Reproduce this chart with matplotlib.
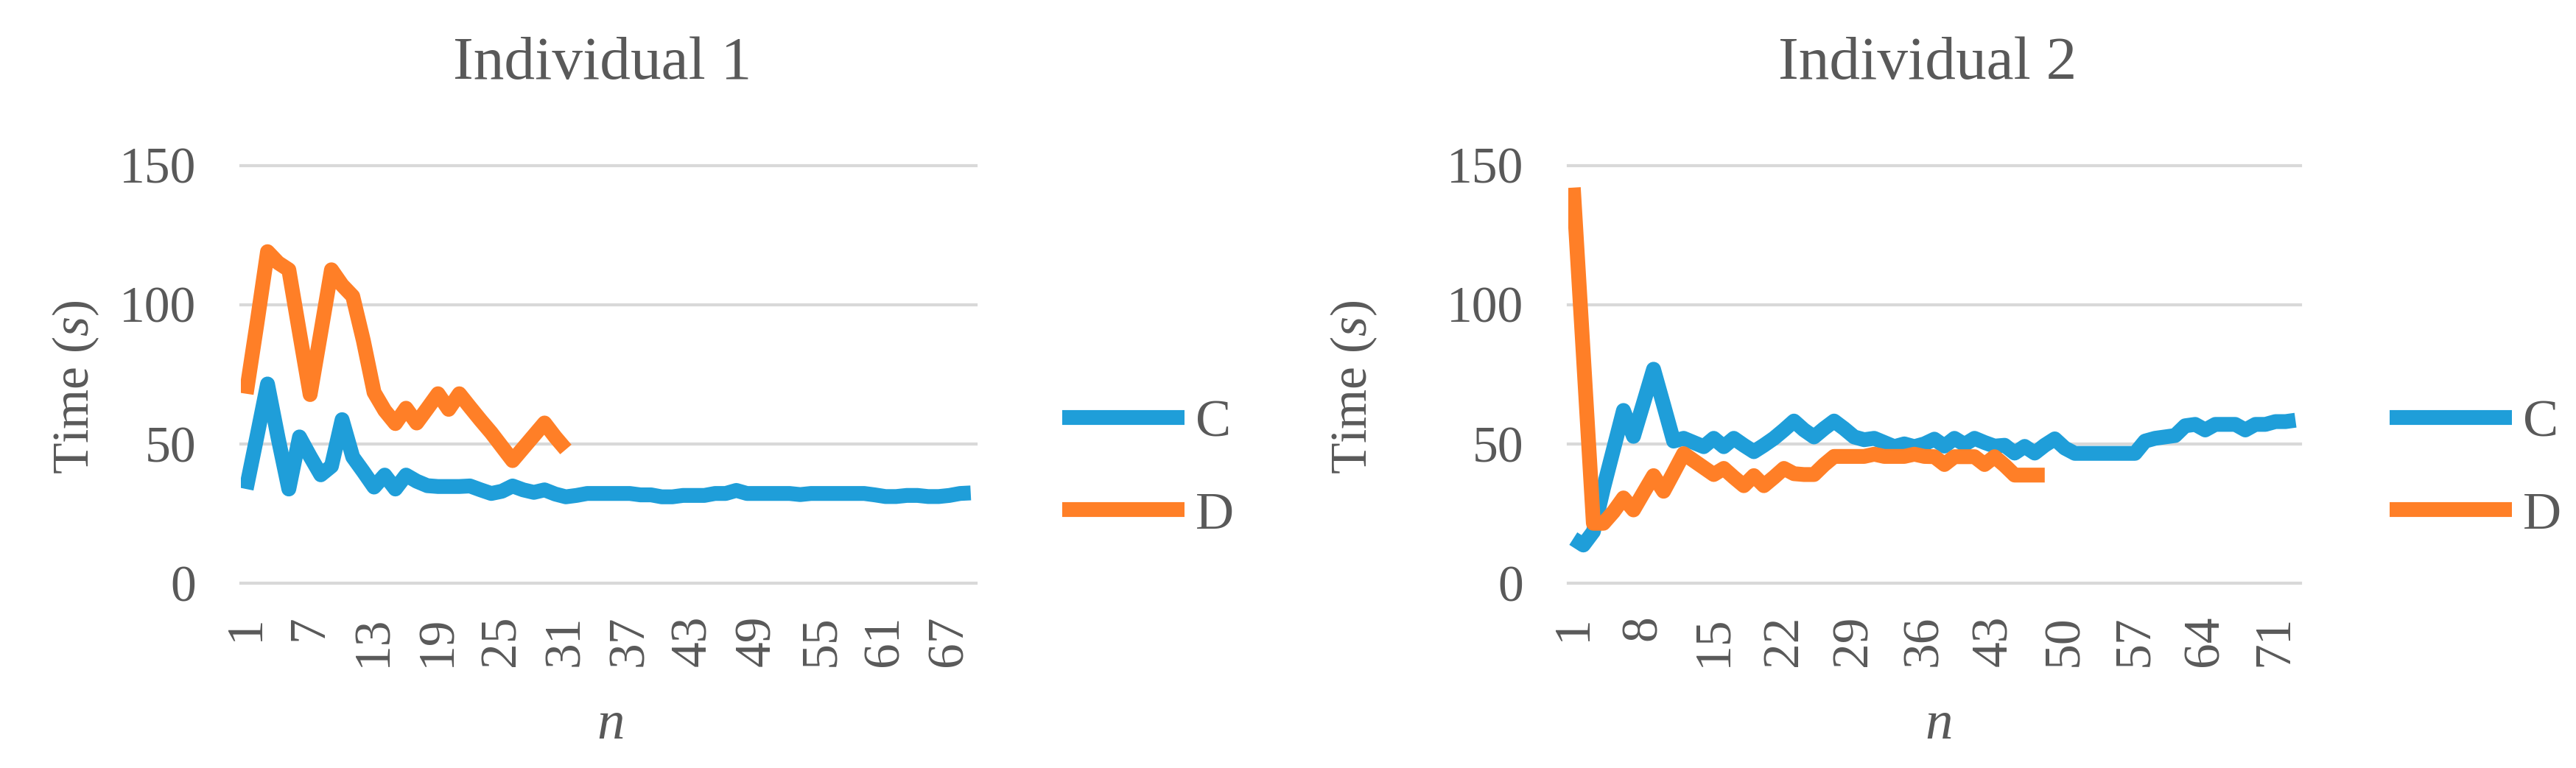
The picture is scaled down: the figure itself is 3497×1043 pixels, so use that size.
import matplotlib
matplotlib.use('Agg')
import numpy as np
import matplotlib.pyplot as plt

plt.rcParams['font.family'] = ['Liberation Serif', 'DejaVu Serif']
plt.rcParams['mathtext.fontset'] = 'custom'
plt.rcParams['mathtext.rm'] = 'Liberation Serif'
plt.rcParams['mathtext.it'] = 'Liberation Serif:italic'

# Individual 1 (times in s, one value per trial n)
ind1_c = [33.8, 52.5, 71.5, 52, 33.8, 52.5, 45.5, 38.9, 42, 58.7,
          45.3, 40, 34.5, 38.8, 33.8, 38.8, 36.6, 35, 34.7, 34.7,
          34.7, 34.9, 33.5, 32.2, 33, 34.9, 33.5, 32.6, 33.5, 32,
          31, 31.5, 32.2, 32.2, 32.2, 32.2, 32.2, 31.7, 31.7, 31,
          31, 31.5, 31.5, 31.5, 32.2, 32.2, 33.3, 32.2, 32.2, 32.2,
          32.2, 32.2, 31.8, 32.2, 32.2, 32.2, 32.2, 32.2, 32.2, 31.7,
          31.1, 31.1, 31.5, 31.5, 31.1, 31.1, 31.5, 32.2, 32.4]
ind1_d = [68, 93, 119, 115, 112.5, 90, 67.7, 90, 112.5, 107,
          103, 87, 68.5, 62, 57.3, 62.8, 57.5, 62.7, 68, 62.4,
          68, 63.2, 58.5, 54, 49, 44, 48.5, 53, 57.5, 52.5, 48]

# Individual 2
ind2_c = [16, 13.7, 18.5, 34, 48, 62, 52.7, 64.7, 76.8, 64,
          51, 52, 50.5, 49, 52, 49, 52, 49.5, 47.2, 49.5,
          52, 55, 58.2, 55, 52.5, 55.5, 58.2, 55.5, 52.5, 51.5,
          52, 50.5, 49, 50, 49, 50, 51.7, 49.2, 52, 49.8,
          52, 50.5, 49.2, 49.5, 46.7, 49.1, 46.7, 49.5, 51.8, 48.5,
          46.6, 46.6, 46.6, 46.6, 46.6, 46.6, 46.6, 51, 52, 52.5,
          53, 56.5, 57, 55, 57, 57, 57, 55, 57, 57,
          58, 58, 58.5]
ind2_d = [142, 82, 21.5, 21.5, 25.6, 30.6, 26.3, 32.5, 38.6, 33,
          39.7, 46.5, 44, 41.5, 39, 41.2, 38, 35, 38.6, 35,
          38, 41.2, 39.3, 39, 39, 42.5, 45.5, 45.5, 45.5, 45.5,
          46.3, 45.5, 45.5, 45.5, 46.3, 45.5, 45.4, 42.6, 45.4, 45.4,
          45.4, 42.6, 45.4, 42.3, 38.8, 38.8, 38.8, 38.8]

y_ticks = [0, 50, 100, 150]

blue = '#1f9ed9'
orange = '#ff7f27'
text_col = '#595959'
grid_col = '#d9d9d9'

W, H = 3498, 1043
fig = plt.figure(figsize=(W / 100, H / 100), dpi=100)

# title, C, D, label step, plot left/right px, title x, ylabel x, xlabel x, legend x
panels = [
    ('Individual 1', ind1_c, ind1_d, 6, 327, 1325, 818, 103, 828, 1442),
    ('Individual 2', ind2_c, ind2_d, 7, 2129, 3123, 2617, 1838, 2631, 3244),
]

top, bottom = 224.5, 792

for title, c, d, step, x0, x1, tx, yx, nx, lx in panels:
    ax = fig.add_axes([x0 / W, 1 - bottom / H, (x1 - x0) / W, (bottom - top) / H])
    n = len(c)
    ax.plot(np.arange(1, n + 1), c, color=blue, lw=14.5, label='C',
            solid_joinstyle='round', solid_capstyle='butt')
    ax.plot(np.arange(1, len(d) + 1), d, color=orange, lw=14.5, label='D',
            solid_joinstyle='round', solid_capstyle='butt')
    ax.set_xlim(0.5, n + 0.5)
    ax.set_ylim(0, 150)
    ax.set_yticks(y_ticks)
    ax.set_xticks(np.arange(1, n + 1, step))
    for v in y_ticks:
        ax.axhline(v, color=grid_col, lw=3, zorder=0, clip_on=False)
    for s in ax.spines.values():
        s.set_visible(False)
    ax.tick_params(axis='x', labelrotation=90, length=0, pad=31,
                   labelsize=50, labelcolor=text_col)
    ax.tick_params(axis='y', length=0, pad=44, labelsize=50, labelcolor=text_col)

    ax.legend(loc='center left', bbox_to_anchor=(lx / W, 1 - 637 / H),
              bbox_transform=fig.transFigure, frameon=False, fontsize=52,
              handlelength=2.3, handletextpad=0.2, labelspacing=0.83,
              borderpad=0, borderaxespad=0, labelcolor=text_col)

    fig.text(tx / W, 1 - 107 / H, title, ha='center', va='baseline',
             fontsize=60, color=text_col)
    fig.text(yx / W, 1 - 526 / H, 'Time ($s$)', rotation=90, ha='center',
             va='center', fontsize=50, color=text_col)
    fig.text(nx / W, 1 - 1003 / H, '$n$', ha='center', va='baseline',
             fontsize=54, color=text_col)

fig.savefig('out.png', dpi=100)
